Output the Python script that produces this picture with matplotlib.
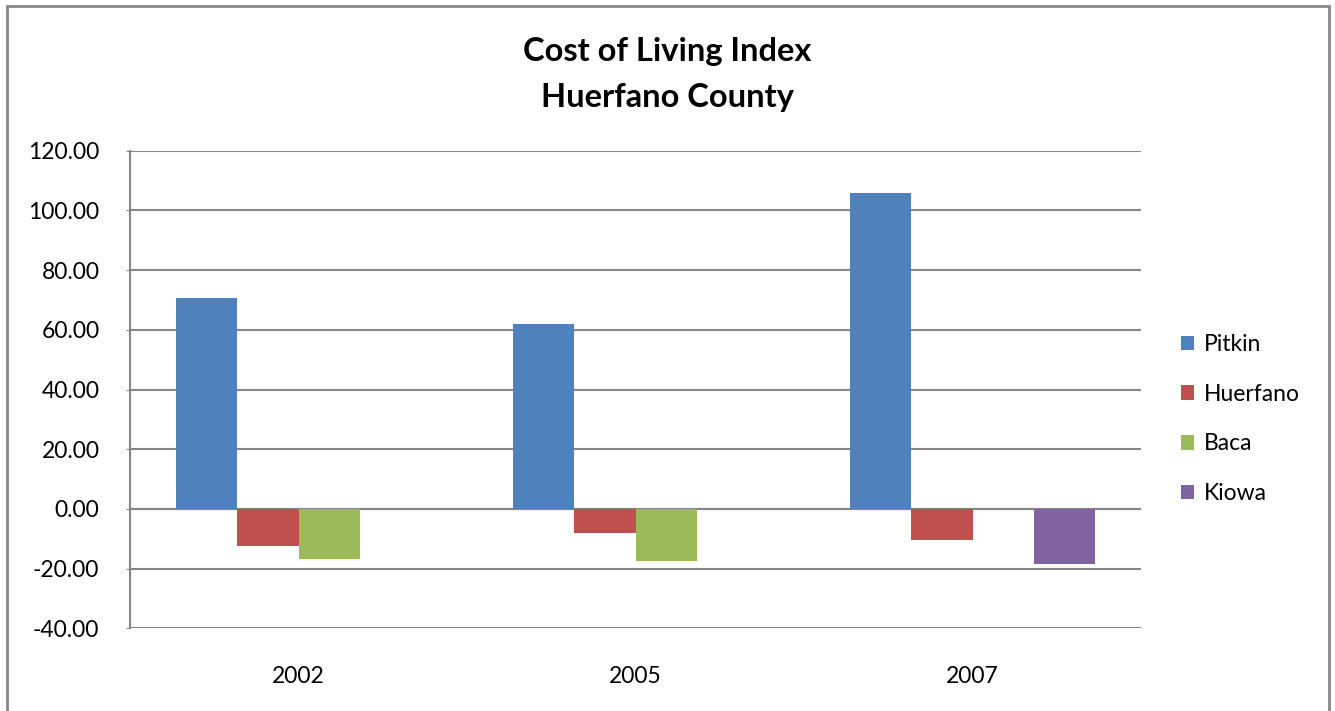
import matplotlib.pyplot as plt
import numpy as np
from matplotlib.patches import Rectangle

plt.rcParams['font.family'] = ['Lato', 'DejaVu Sans']

years = ['2002', '2005', '2007']
counties = ['Pitkin', 'Huerfano', 'Baca', 'Kiowa']
pitkin = [70.5, 61.8, 105.9]
huerfano = [-12.3, -8.2, -10.3]
baca = [-16.7, -17.5, np.nan]
kiowa = [np.nan, np.nan, -18.4]
colors = ['#4F81BD', '#C0504D', '#9BBB59', '#8064A2']

fig = plt.figure(figsize=(13.35, 7.11), dpi=100)
ax = fig.add_axes([130 / 1335, 1 - 628.3 / 711, 1011 / 1335, 477.6 / 711])

# outer chart border
fig.patches.append(Rectangle((6.5 / 1335, -0.1), 1322 / 1335, 1.1 - 6.5 / 711,
                             transform=fig.transFigure, fill=False,
                             edgecolor='#888888', linewidth=2))

x = np.arange(len(years))
w = 1 / 5.5
for i, (name, vals) in enumerate(zip(counties, [pitkin, huerfano, baca, kiowa])):
    ax.bar(x + (i - 1.5) * w, vals, width=w, color=colors[i], label=name,
           edgecolor='none')

ax.set_xlim(-0.5, 2.5)
ax.set_ylim(-40, 120)
ax.set_yticks(range(-40, 121, 20))
ax.set_yticklabels([f'{v:.2f}' for v in range(-40, 121, 20)])
ax.set_xticks(x)
ax.set_xticklabels(years)
ax.yaxis.grid(True, color='#868686', linewidth=1.5)
ax.set_axisbelow(True)
ax.axhline(0, color='#868686', linewidth=1.5, zorder=0.5)
for s in ['top', 'right', 'bottom']:
    ax.spines[s].set_visible(False)
ax.spines['left'].set_color('#868686')
ax.spines['left'].set_linewidth(1.5)
ax.tick_params(axis='y', length=3, color='#868686', labelsize=16.5, pad=19)
ax.tick_params(axis='x', length=0, labelsize=16.5, pad=27)

fig.text(0.5, 1 - 51 / 711, 'Cost of Living Index', ha='center', va='center',
         fontsize=23.5, fontweight='bold')
fig.text(0.5, 1 - 97 / 711, 'Huerfano County', ha='center', va='center',
         fontsize=23.5, fontweight='bold')

leg = ax.legend(loc='center left', bbox_to_anchor=(1160 / 1335, 1 - 419 / 711),
                bbox_transform=fig.transFigure, frameon=False, fontsize=16.5,
                handlelength=0.6, handleheight=0.6, handletextpad=0.4,
                labelspacing=1.25)

fig.savefig('out.png', dpi=100)
